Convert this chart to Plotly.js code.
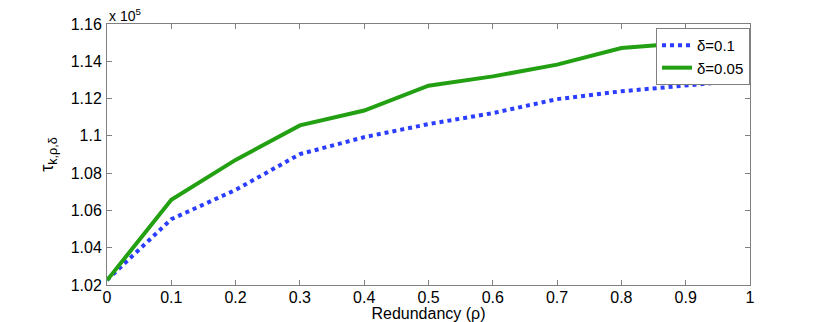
<!DOCTYPE html>
<html>
<head>
<meta charset="utf-8">
<script src="https://cdn.plot.ly/plotly-3.0.1.min.js"></script>
<style>html,body{margin:0;padding:0;background:#fff;}#chart{width:830px;height:322px;}</style>
</head>
<body>
<div id="chart"></div>
<script>
// Data (values as on the chart, x 10^5)
const rho = [0, 0.1, 0.2, 0.3, 0.4, 0.5, 0.6, 0.7, 0.8, 0.9, 1.0];
const tauDelta01 = [102270, 105530, 107100, 109020, 109930, 110630, 111220, 111970, 112390, 112710, 113010];
const tauDelta005 = [102250, 106570, 108710, 110560, 111360, 112690, 113190, 113820, 114710, 114980, 115250];
const seriesNames = ['δ=0.1', 'δ=0.05'];
const yTickVals = [102000, 104000, 106000, 108000, 110000, 112000, 114000, 116000];
const yTickText = ['1.02', '1.04', '1.06', '1.08', '1.1', '1.12', '1.14', '1.16'];
const xTickVals = [0, 0.1, 0.2, 0.3, 0.4, 0.5, 0.6, 0.7, 0.8, 0.9, 1];
const xTickText = ['0', '0.1', '0.2', '0.3', '0.4', '0.5', '0.6', '0.7', '0.8', '0.9', '1'];

const FONT = 'Liberation Sans, Arial, Helvetica, sans-serif';
const AX = '#808080';

const traces = [
  {x: rho, y: tauDelta01, name: seriesNames[0], type: 'scatter', mode: 'lines',
   line: {color: '#2b3dff', width: 4, dash: 'dot'}},
  {x: rho, y: tauDelta005, name: seriesNames[1], type: 'scatter', mode: 'lines',
   line: {color: '#22a012', width: 4}}
];

const axisCommon = {
  showgrid: false, zeroline: false, showline: true, linecolor: AX, linewidth: 1,
  mirror: 'ticks', ticks: 'inside', ticklen: 5, tickcolor: AX, tickwidth: 1,
  tickfont: {family: FONT, size: 16, color: '#000'}
};

const layout = {
  width: 830, height: 322,
  margin: {l: 107, r: 80, t: 24, b: 37, pad: 0},
  paper_bgcolor: '#fff', plot_bgcolor: '#fff',
  font: {family: FONT, color: '#000'},
  showlegend: true,
  legend: {x: 1, xanchor: 'right', y: 0.985, yanchor: 'top',
    bgcolor: '#fff', bordercolor: AX, borderwidth: 1,
    font: {family: FONT, size: 15, color: '#000'},
    itemwidth: 30, tracegroupgap: 0},
  xaxis: Object.assign({}, axisCommon, {
    range: [0, 1], tickmode: 'array', tickvals: xTickVals, ticktext: xTickText,
    ticklabelstandoff: -2,
    title: {text: 'Redundancy (ρ)', font: {family: FONT, size: 16, color: '#000'}, standoff: 0}
  }),
  yaxis: Object.assign({}, axisCommon, {
    range: [102000, 116000], tickmode: 'array', tickvals: yTickVals, ticktext: yTickText,
    ticklabelstandoff: 1,
    title: {text: 'τ<sub>k,ρ,δ</sub>', font: {family: FONT, size: 18, color: '#000'}, standoff: 12}
  }),
  annotations: [{
    xref: 'paper', yref: 'paper', x: 0, y: 1, xanchor: 'left', yanchor: 'bottom',
    text: 'x 10<sup>5</sup>', showarrow: false, yshift: -2,
    font: {family: FONT, size: 14, color: '#000'}
  }]
};

Plotly.newPlot('chart', traces, layout, {staticPlot: true, displayModeBar: false});
</script>
</body>
</html>
